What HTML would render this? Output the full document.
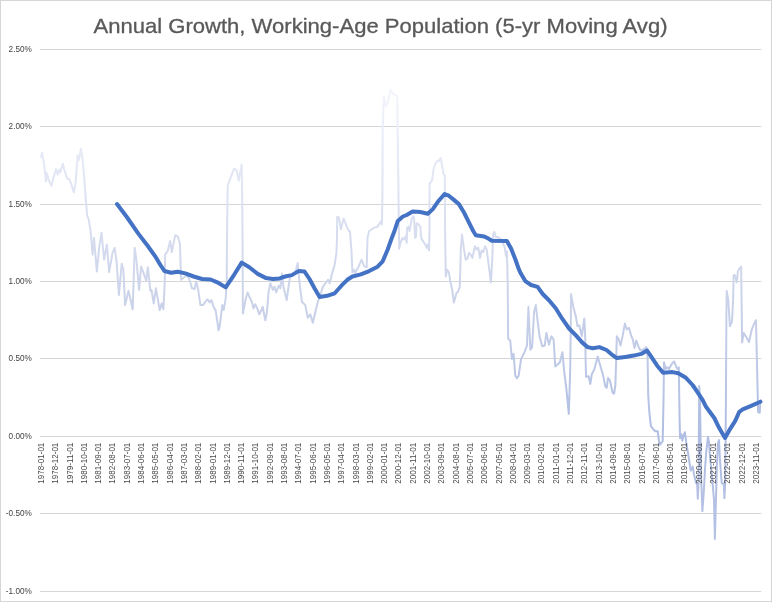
<!DOCTYPE html>
<html lang="en"><head><meta charset="utf-8"><title>Annual Growth, Working-Age Population (5-yr Moving Avg)</title>
<style>html,body{margin:0;padding:0;background:#fff}body{width:772px;height:602px;overflow:hidden}svg{display:block}text{font-family:"Liberation Sans",sans-serif}</style></head><body>
<svg width="772" height="602" viewBox="0 0 772 602">
<defs><linearGradient id="g" gradientUnits="userSpaceOnUse" x1="0" y1="88" x2="0" y2="540"><stop offset="0.000" stop-color="rgb(243,245,251)"/><stop offset="0.181" stop-color="rgb(227,231,245)"/><stop offset="0.480" stop-color="rgb(202,210,233)"/><stop offset="0.757" stop-color="rgb(176,190,227)"/><stop offset="1.000" stop-color="rgb(182,194,228)"/></linearGradient></defs>
<rect x="0" y="0" width="772" height="602" fill="#fff"/>
<rect x="0.5" y="0.5" width="771" height="601" fill="none" stroke="#d6d6d6" stroke-width="1"/>
<line x1="40" y1="49.5" x2="761.3" y2="49.5" stroke="#d6d6d6" stroke-width="1"/>
<line x1="40" y1="126.5" x2="761.3" y2="126.5" stroke="#d6d6d6" stroke-width="1"/>
<line x1="40" y1="204.5" x2="761.3" y2="204.5" stroke="#d6d6d6" stroke-width="1"/>
<line x1="40" y1="281.5" x2="761.3" y2="281.5" stroke="#d6d6d6" stroke-width="1"/>
<line x1="40" y1="358.5" x2="761.3" y2="358.5" stroke="#d6d6d6" stroke-width="1"/>
<line x1="40" y1="436.5" x2="761.3" y2="436.5" stroke="#d6d6d6" stroke-width="1"/>
<line x1="40" y1="513.5" x2="761.3" y2="513.5" stroke="#d6d6d6" stroke-width="1"/>
<line x1="40" y1="591.5" x2="761.3" y2="591.5" stroke="#d6d6d6" stroke-width="1"/>
<text x="380.5" y="33.2" font-size="20.3" fill="#595959" stroke="#595959" stroke-width="0.3" text-anchor="middle" textLength="574" lengthAdjust="spacingAndGlyphs">Annual Growth, Working-Age Population (5-yr Moving Avg)</text>
<text x="31.8" y="52.1" font-size="8.2" fill="#444444" text-anchor="end">2.50%</text>
<text x="31.8" y="129.1" font-size="8.2" fill="#444444" text-anchor="end">2.00%</text>
<text x="31.8" y="207.1" font-size="8.2" fill="#444444" text-anchor="end">1.50%</text>
<text x="31.8" y="284.1" font-size="8.2" fill="#444444" text-anchor="end">1.00%</text>
<text x="31.8" y="361.1" font-size="8.2" fill="#444444" text-anchor="end">0.50%</text>
<text x="31.8" y="439.1" font-size="8.2" fill="#444444" text-anchor="end">0.00%</text>
<text x="31.8" y="516.1" font-size="8.2" fill="#444444" text-anchor="end">-0.50%</text>
<text x="31.8" y="594.1" font-size="8.2" fill="#444444" text-anchor="end">-1.00%</text>
<path d="M40.9,156.9 L42.1,152.7 L44.3,166.2 L46.0,181.3 L46.8,172.9 L48.5,179.7 L51.5,185.6 L53.6,177.1 L56.1,169.1 L57.8,174.6 L59.5,169.6 L60.3,172.1 L62.8,163.7 L64.5,170.4 L67.4,178.8 L69.1,178.8 L71.2,183.9 L73.8,192.3 L75.5,183.9 L77.6,155.3 L78.8,160.3 L81.0,148.5 L82.5,158.6 L84.2,177.1 L85.9,200.7 L87.2,215.9 L88.6,219.2 L90.6,231.0 L92.6,254.6 L94.0,237.7 L96.8,271.4 L99.4,246.2 L101.5,232.7 L104.1,259.6 L106.9,244.5 L109.1,272.2 L112.5,252.9 L114.7,247.8 L116.7,263.0 L118.9,295.0 L121.7,263.8 L123.4,269.7 L125.1,305.1 L128.5,290.8 L132.7,309.3 L134.7,247.8 L136.4,259.6 L139.1,289.9 L141.1,266.4 L143.6,273.1 L146.2,280.7 L147.8,267.2 L150.4,290.8 L151.5,289.9 L153.7,303.4 L155.9,288.2 L159.7,310.1 L161.7,303.4 L163.4,309.3 L164.8,281.5 L165.1,254.6 L167.6,251.2 L170.2,241.1 L171.8,252.0 L175.2,235.2 L177.7,236.1 L179.9,243.6 L181.1,279.8 L187.0,275.0 L189.5,279.8 L192.0,288.2 L194.6,289.1 L196.2,281.5 L197.9,288.2 L200.5,305.1 L203.0,305.1 L205.5,301.7 L207.5,299.2 L209.7,302.5 L211.4,300.0 L213.9,307.6 L215.6,310.1 L218.6,330.3 L219.8,325.3 L222.3,305.1 L223.7,310.1 L225.7,298.3 L226.7,281.5 L227.1,231.0 L227.7,185.6 L230.8,177.1 L234.1,168.7 L236.6,170.4 L238.7,180.5 L241.7,164.5 L242.2,197.3 L242.5,231.0 L242.9,313.5 L245.9,298.3 L247.6,292.4 L249.3,296.7 L251.8,301.7 L253.5,308.4 L255.2,304.2 L256.9,307.6 L259.4,314.3 L262.7,306.8 L265.3,320.2 L267.0,311.8 L268.6,291.6 L270.3,283.2 L272.8,289.9 L274.5,286.6 L276.2,292.4 L278.7,285.7 L280.4,288.2 L281.9,273.5 L283.4,286.6 L286.7,300.0 L289.3,281.5 L290.4,275.6 L295.2,273.1 L297.7,263.0 L299.4,281.5 L301.9,301.7 L305.3,305.1 L307.8,317.7 L310.3,314.3 L312.8,322.8 L315.4,311.8 L317.9,301.7 L320.4,295.0 L322.9,286.6 L328.0,279.8 L329.7,283.2 L332.2,273.1 L334.7,264.7 L336.4,252.9 L336.9,241.0 L337.2,216.7 L338.9,217.5 L340.9,229.3 L343.6,218.4 L346.5,226.0 L349.0,231.0 L349.9,231.0 L351.5,251.2 L352.4,272.2 L354.1,269.7 L354.9,273.1 L358.3,267.2 L361.6,259.6 L364.2,266.4 L366.7,267.2 L367.5,237.7 L369.2,231.0 L374.3,227.6 L377.6,226.8 L380.5,221.8 L381.9,224.3 L382.4,197.0 L382.7,130.0 L383.8,96.2 L385.5,106.3 L388.0,102.1 L390.5,89.5 L393.0,93.7 L397.2,96.2 L398.1,161.0 L398.9,231.0 L399.2,248.7 L400.4,242.8 L402.5,238.0 L404.2,239.4 L405.9,236.1 L406.7,242.8 L407.1,228.0 L408.4,226.8 L409.5,231.0 L411.5,219.5 L413.1,216.1 L414.1,219.0 L415.1,237.7 L415.9,237.0 L416.7,223.1 L418.3,224.2 L420.4,226.8 L420.9,236.0 L421.9,239.4 L425.3,244.5 L426.9,247.8 L427.8,244.5 L429.0,250.4 L429.5,231.0 L429.5,183.9 L432.0,180.5 L433.7,168.7 L435.4,163.7 L437.9,160.3 L439.1,161.1 L440.7,157.8 L442.1,165.4 L443.4,173.8 L444.8,175.5 L445.1,231.0 L445.8,276.5 L447.1,269.7 L448.8,272.2 L450.5,282.3 L452.2,289.9 L453.9,302.6 L456.4,293.3 L458.1,291.6 L459.8,286.6 L460.9,247.8 L462.0,234.4 L464.0,249.5 L465.7,259.6 L467.3,258.8 L469.0,252.9 L470.7,254.6 L472.4,257.9 L474.9,246.2 L476.6,249.5 L478.3,247.8 L480.0,257.9 L481.6,250.4 L483.3,252.0 L485.0,246.2 L486.7,249.5 L488.4,263.0 L490.9,282.3 L492.3,259.6 L493.1,234.4 L494.3,231.8 L496.0,237.7 L497.6,236.9 L501.0,239.4 L504.4,246.2 L506.1,256.3 L506.9,251.2 L507.7,281.5 L508.1,332.0 L508.2,338.7 L510.2,340.4 L511.9,358.9 L513.6,353.9 L515.3,375.8 L516.9,378.3 L518.6,375.8 L521.1,358.9 L524.5,352.2 L527.0,345.5 L528.4,306.7 L530.4,349.7 L532.1,347.1 L534.1,311.8 L535.8,305.0 L537.1,316.8 L539.7,337.0 L542.2,346.3 L544.7,345.5 L546.4,332.8 L548.9,344.6 L551.4,336.2 L553.6,339.6 L555.3,366.5 L557.3,364.8 L559.9,362.3 L562.4,352.2 L564.1,370.7 L566.6,390.9 L568.8,413.8 L570.2,370.0 L570.8,325.0 L571.0,294.0 L573.3,306.7 L575.9,316.8 L577.5,326.1 L579.2,325.3 L581.8,336.2 L584.3,318.5 L585.1,333.7 L586.0,376.8 L588.6,376.2 L590.3,384.0 L591.8,374.2 L594.4,369.1 L597.7,356.4 L600.3,365.7 L602.8,374.1 L605.4,386.6 L606.7,387.8 L608.0,378.1 L610.0,380.7 L612.5,392.4 L614.1,393.7 L615.4,385.0 L616.3,355.6 L616.8,336.2 L618.5,338.7 L620.5,345.5 L622.7,335.4 L624.9,323.6 L626.9,329.5 L629.0,327.8 L631.1,335.4 L632.8,339.6 L634.5,348.0 L636.2,340.4 L638.7,347.1 L640.4,350.5 L642.9,349.7 L644.6,348.8 L646.3,347.1 L647.6,357.2 L648.2,395.0 L649.3,411.8 L650.9,426.1 L653.5,429.5 L655.2,431.2 L657.7,431.2 L658.9,440.5 L659.9,444.7 L662.7,441.3 L663.6,395.0 L664.0,362.3 L665.7,369.0 L667.3,367.3 L669.0,369.0 L670.7,365.7 L672.4,363.1 L674.1,361.4 L675.8,365.7 L677.4,369.0 L678.8,367.3 L679.3,401.0 L679.6,420.0 L680.1,438.1 L681.4,434.2 L682.3,440.7 L683.6,435.5 L684.9,432.3 L686.2,442.0 L688.1,453.7 L690.7,470.5 L692.7,466.6 L694.0,474.4 L695.9,482.2 L697.2,484.8 L697.8,498.8 L698.6,480.0 L699.2,386.0 L700.0,398.0 L701.2,480.0 L702.4,511.1 L703.9,490.0 L705.0,469.2 L706.3,451.1 L708.0,436.8 L708.9,442.0 L710.2,458.9 L712.1,477.0 L714.0,500.0 L714.9,538.9 L716.0,497.7 L716.9,465.3 L717.9,443.3 L719.0,440.1 L719.9,458.9 L721.2,477.0 L721.8,483.5 L723.8,483.5 L724.4,498.1 L725.3,480.0 L725.9,401.0 L726.4,313.8 L726.7,291.0 L728.3,300.0 L729.9,326.1 L732.0,321.3 L733.1,300.0 L733.6,275.5 L734.7,275.0 L735.7,277.7 L736.8,282.4 L737.9,271.3 L739.5,268.6 L741.1,266.5 L741.6,300.0 L742.1,342.6 L743.7,333.0 L746.4,337.2 L749.0,342.0 L751.7,329.8 L753.8,324.5 L756.0,320.2 L756.5,342.6 L757.0,363.8 L758.1,412.1 L759.7,412.7 L760.2,404.7" fill="none" stroke="url(#g)" stroke-width="2.0" stroke-linejoin="round" stroke-linecap="round"/>
<path d="M117.0,204.0 L126.8,217.0 L138.5,233.9 L147.8,246.0 L155.2,256.3 L160.4,265.0 L164.4,271.0 L171.0,272.8 L177.7,271.7 L185.3,273.4 L193.7,276.5 L202.1,279.0 L210.6,279.5 L217.3,282.3 L225.7,287.4 L234.1,274.8 L241.7,262.6 L249.3,267.2 L257.7,273.9 L266.1,278.1 L272.8,279.0 L279.6,278.4 L285.1,276.5 L291.8,275.1 L298.5,271.1 L304.4,271.4 L309.5,279.0 L314.5,288.2 L319.6,297.0 L327.1,295.8 L334.7,293.3 L341.4,285.7 L347.3,279.8 L352.4,276.5 L360.8,274.4 L369.2,271.1 L377.6,266.7 L382.7,261.3 L387.7,249.5 L391.9,237.7 L394.5,231.0 L397.8,220.9 L402.9,216.5 L406.7,215.0 L412.6,211.6 L420.2,212.0 L427.8,213.7 L432.8,209.1 L438.7,200.7 L444.6,194.0 L448.8,195.7 L453.9,199.9 L458.9,204.1 L464.0,212.5 L469.0,222.6 L473.2,231.0 L475.8,235.2 L484.2,236.4 L488.4,238.6 L491.8,240.8 L506.9,241.1 L511.1,248.5 L515.4,259.5 L518.7,268.9 L520.7,273.3 L525.3,281.1 L531.1,285.0 L537.6,286.9 L542.7,294.0 L549.2,300.5 L555.7,308.3 L562.2,318.7 L569.1,328.5 L575.9,335.4 L582.6,342.9 L587.6,347.1 L592.7,348.3 L599.4,347.1 L606.5,350.0 L611.5,354.3 L616.8,358.1 L625.3,356.9 L633.7,355.6 L641.2,353.9 L647.1,350.5 L652.2,358.1 L657.2,365.7 L663.1,372.7 L672.4,372.1 L678.3,373.2 L685.9,377.8 L692.6,385.0 L697.8,392.6 L702.7,400.2 L706.0,406.8 L714.3,418.0 L719.1,427.8 L725.0,437.9 L729.2,430.4 L735.1,421.1 L739.3,411.8 L742.7,409.3 L751.1,405.9 L760.4,401.7" fill="none" stroke="#4472c4" stroke-width="4.0" stroke-linejoin="round" stroke-linecap="round"/>
<text transform="translate(43.90,442.7) rotate(-90)" font-size="8.6" fill="#4a4a4a" text-anchor="end" textLength="41" lengthAdjust="spacingAndGlyphs">1978-01-01</text>
<text transform="translate(58.20,442.7) rotate(-90)" font-size="8.6" fill="#4a4a4a" text-anchor="end" textLength="41" lengthAdjust="spacingAndGlyphs">1978-12-01</text>
<text transform="translate(72.50,442.7) rotate(-90)" font-size="8.6" fill="#4a4a4a" text-anchor="end" textLength="41" lengthAdjust="spacingAndGlyphs">1979-11-01</text>
<text transform="translate(86.80,442.7) rotate(-90)" font-size="8.6" fill="#4a4a4a" text-anchor="end" textLength="41" lengthAdjust="spacingAndGlyphs">1980-10-01</text>
<text transform="translate(101.10,442.7) rotate(-90)" font-size="8.6" fill="#4a4a4a" text-anchor="end" textLength="41" lengthAdjust="spacingAndGlyphs">1981-09-01</text>
<text transform="translate(115.40,442.7) rotate(-90)" font-size="8.6" fill="#4a4a4a" text-anchor="end" textLength="41" lengthAdjust="spacingAndGlyphs">1982-08-01</text>
<text transform="translate(129.70,442.7) rotate(-90)" font-size="8.6" fill="#4a4a4a" text-anchor="end" textLength="41" lengthAdjust="spacingAndGlyphs">1983-07-01</text>
<text transform="translate(144.00,442.7) rotate(-90)" font-size="8.6" fill="#4a4a4a" text-anchor="end" textLength="41" lengthAdjust="spacingAndGlyphs">1984-06-01</text>
<text transform="translate(158.30,442.7) rotate(-90)" font-size="8.6" fill="#4a4a4a" text-anchor="end" textLength="41" lengthAdjust="spacingAndGlyphs">1985-05-01</text>
<text transform="translate(172.60,442.7) rotate(-90)" font-size="8.6" fill="#4a4a4a" text-anchor="end" textLength="41" lengthAdjust="spacingAndGlyphs">1986-04-01</text>
<text transform="translate(186.90,442.7) rotate(-90)" font-size="8.6" fill="#4a4a4a" text-anchor="end" textLength="41" lengthAdjust="spacingAndGlyphs">1987-03-01</text>
<text transform="translate(201.20,442.7) rotate(-90)" font-size="8.6" fill="#4a4a4a" text-anchor="end" textLength="41" lengthAdjust="spacingAndGlyphs">1988-02-01</text>
<text transform="translate(215.50,442.7) rotate(-90)" font-size="8.6" fill="#4a4a4a" text-anchor="end" textLength="41" lengthAdjust="spacingAndGlyphs">1989-01-01</text>
<text transform="translate(229.80,442.7) rotate(-90)" font-size="8.6" fill="#4a4a4a" text-anchor="end" textLength="41" lengthAdjust="spacingAndGlyphs">1989-12-01</text>
<text transform="translate(244.10,442.7) rotate(-90)" font-size="8.6" fill="#4a4a4a" text-anchor="end" textLength="41" lengthAdjust="spacingAndGlyphs">1990-11-01</text>
<text transform="translate(258.40,442.7) rotate(-90)" font-size="8.6" fill="#4a4a4a" text-anchor="end" textLength="41" lengthAdjust="spacingAndGlyphs">1991-10-01</text>
<text transform="translate(272.70,442.7) rotate(-90)" font-size="8.6" fill="#4a4a4a" text-anchor="end" textLength="41" lengthAdjust="spacingAndGlyphs">1992-09-01</text>
<text transform="translate(287.00,442.7) rotate(-90)" font-size="8.6" fill="#4a4a4a" text-anchor="end" textLength="41" lengthAdjust="spacingAndGlyphs">1993-08-01</text>
<text transform="translate(301.30,442.7) rotate(-90)" font-size="8.6" fill="#4a4a4a" text-anchor="end" textLength="41" lengthAdjust="spacingAndGlyphs">1994-07-01</text>
<text transform="translate(315.60,442.7) rotate(-90)" font-size="8.6" fill="#4a4a4a" text-anchor="end" textLength="41" lengthAdjust="spacingAndGlyphs">1995-06-01</text>
<text transform="translate(329.90,442.7) rotate(-90)" font-size="8.6" fill="#4a4a4a" text-anchor="end" textLength="41" lengthAdjust="spacingAndGlyphs">1996-05-01</text>
<text transform="translate(344.20,442.7) rotate(-90)" font-size="8.6" fill="#4a4a4a" text-anchor="end" textLength="41" lengthAdjust="spacingAndGlyphs">1997-04-01</text>
<text transform="translate(358.50,442.7) rotate(-90)" font-size="8.6" fill="#4a4a4a" text-anchor="end" textLength="41" lengthAdjust="spacingAndGlyphs">1998-03-01</text>
<text transform="translate(372.80,442.7) rotate(-90)" font-size="8.6" fill="#4a4a4a" text-anchor="end" textLength="41" lengthAdjust="spacingAndGlyphs">1999-02-01</text>
<text transform="translate(387.10,442.7) rotate(-90)" font-size="8.6" fill="#4a4a4a" text-anchor="end" textLength="41" lengthAdjust="spacingAndGlyphs">2000-01-01</text>
<text transform="translate(401.40,442.7) rotate(-90)" font-size="8.6" fill="#4a4a4a" text-anchor="end" textLength="41" lengthAdjust="spacingAndGlyphs">2000-12-01</text>
<text transform="translate(415.70,442.7) rotate(-90)" font-size="8.6" fill="#4a4a4a" text-anchor="end" textLength="41" lengthAdjust="spacingAndGlyphs">2001-11-01</text>
<text transform="translate(430.00,442.7) rotate(-90)" font-size="8.6" fill="#4a4a4a" text-anchor="end" textLength="41" lengthAdjust="spacingAndGlyphs">2002-10-01</text>
<text transform="translate(444.30,442.7) rotate(-90)" font-size="8.6" fill="#4a4a4a" text-anchor="end" textLength="41" lengthAdjust="spacingAndGlyphs">2003-09-01</text>
<text transform="translate(458.60,442.7) rotate(-90)" font-size="8.6" fill="#4a4a4a" text-anchor="end" textLength="41" lengthAdjust="spacingAndGlyphs">2004-08-01</text>
<text transform="translate(472.90,442.7) rotate(-90)" font-size="8.6" fill="#4a4a4a" text-anchor="end" textLength="41" lengthAdjust="spacingAndGlyphs">2005-07-01</text>
<text transform="translate(487.20,442.7) rotate(-90)" font-size="8.6" fill="#4a4a4a" text-anchor="end" textLength="41" lengthAdjust="spacingAndGlyphs">2006-06-01</text>
<text transform="translate(501.50,442.7) rotate(-90)" font-size="8.6" fill="#4a4a4a" text-anchor="end" textLength="41" lengthAdjust="spacingAndGlyphs">2007-05-01</text>
<text transform="translate(515.80,442.7) rotate(-90)" font-size="8.6" fill="#4a4a4a" text-anchor="end" textLength="41" lengthAdjust="spacingAndGlyphs">2008-04-01</text>
<text transform="translate(530.10,442.7) rotate(-90)" font-size="8.6" fill="#4a4a4a" text-anchor="end" textLength="41" lengthAdjust="spacingAndGlyphs">2009-03-01</text>
<text transform="translate(544.40,442.7) rotate(-90)" font-size="8.6" fill="#4a4a4a" text-anchor="end" textLength="41" lengthAdjust="spacingAndGlyphs">2010-02-01</text>
<text transform="translate(558.70,442.7) rotate(-90)" font-size="8.6" fill="#4a4a4a" text-anchor="end" textLength="41" lengthAdjust="spacingAndGlyphs">2011-01-01</text>
<text transform="translate(573.00,442.7) rotate(-90)" font-size="8.6" fill="#4a4a4a" text-anchor="end" textLength="41" lengthAdjust="spacingAndGlyphs">2011-12-01</text>
<text transform="translate(587.30,442.7) rotate(-90)" font-size="8.6" fill="#4a4a4a" text-anchor="end" textLength="41" lengthAdjust="spacingAndGlyphs">2012-11-01</text>
<text transform="translate(601.60,442.7) rotate(-90)" font-size="8.6" fill="#4a4a4a" text-anchor="end" textLength="41" lengthAdjust="spacingAndGlyphs">2013-10-01</text>
<text transform="translate(615.90,442.7) rotate(-90)" font-size="8.6" fill="#4a4a4a" text-anchor="end" textLength="41" lengthAdjust="spacingAndGlyphs">2014-09-01</text>
<text transform="translate(630.20,442.7) rotate(-90)" font-size="8.6" fill="#4a4a4a" text-anchor="end" textLength="41" lengthAdjust="spacingAndGlyphs">2015-08-01</text>
<text transform="translate(644.50,442.7) rotate(-90)" font-size="8.6" fill="#4a4a4a" text-anchor="end" textLength="41" lengthAdjust="spacingAndGlyphs">2016-07-01</text>
<text transform="translate(658.80,442.7) rotate(-90)" font-size="8.6" fill="#4a4a4a" text-anchor="end" textLength="41" lengthAdjust="spacingAndGlyphs">2017-06-01</text>
<text transform="translate(673.10,442.7) rotate(-90)" font-size="8.6" fill="#4a4a4a" text-anchor="end" textLength="41" lengthAdjust="spacingAndGlyphs">2018-05-01</text>
<text transform="translate(687.40,442.7) rotate(-90)" font-size="8.6" fill="#4a4a4a" text-anchor="end" textLength="41" lengthAdjust="spacingAndGlyphs">2019-04-01</text>
<text transform="translate(701.70,442.7) rotate(-90)" font-size="8.6" fill="#4a4a4a" text-anchor="end" textLength="41" lengthAdjust="spacingAndGlyphs">2020-03-01</text>
<text transform="translate(716.00,442.7) rotate(-90)" font-size="8.6" fill="#4a4a4a" text-anchor="end" textLength="41" lengthAdjust="spacingAndGlyphs">2021-02-01</text>
<text transform="translate(730.30,442.7) rotate(-90)" font-size="8.6" fill="#4a4a4a" text-anchor="end" textLength="41" lengthAdjust="spacingAndGlyphs">2022-01-01</text>
<text transform="translate(744.60,442.7) rotate(-90)" font-size="8.6" fill="#4a4a4a" text-anchor="end" textLength="41" lengthAdjust="spacingAndGlyphs">2022-12-01</text>
<text transform="translate(758.90,442.7) rotate(-90)" font-size="8.6" fill="#4a4a4a" text-anchor="end" textLength="41" lengthAdjust="spacingAndGlyphs">2023-11-01</text>
</svg></body></html>
